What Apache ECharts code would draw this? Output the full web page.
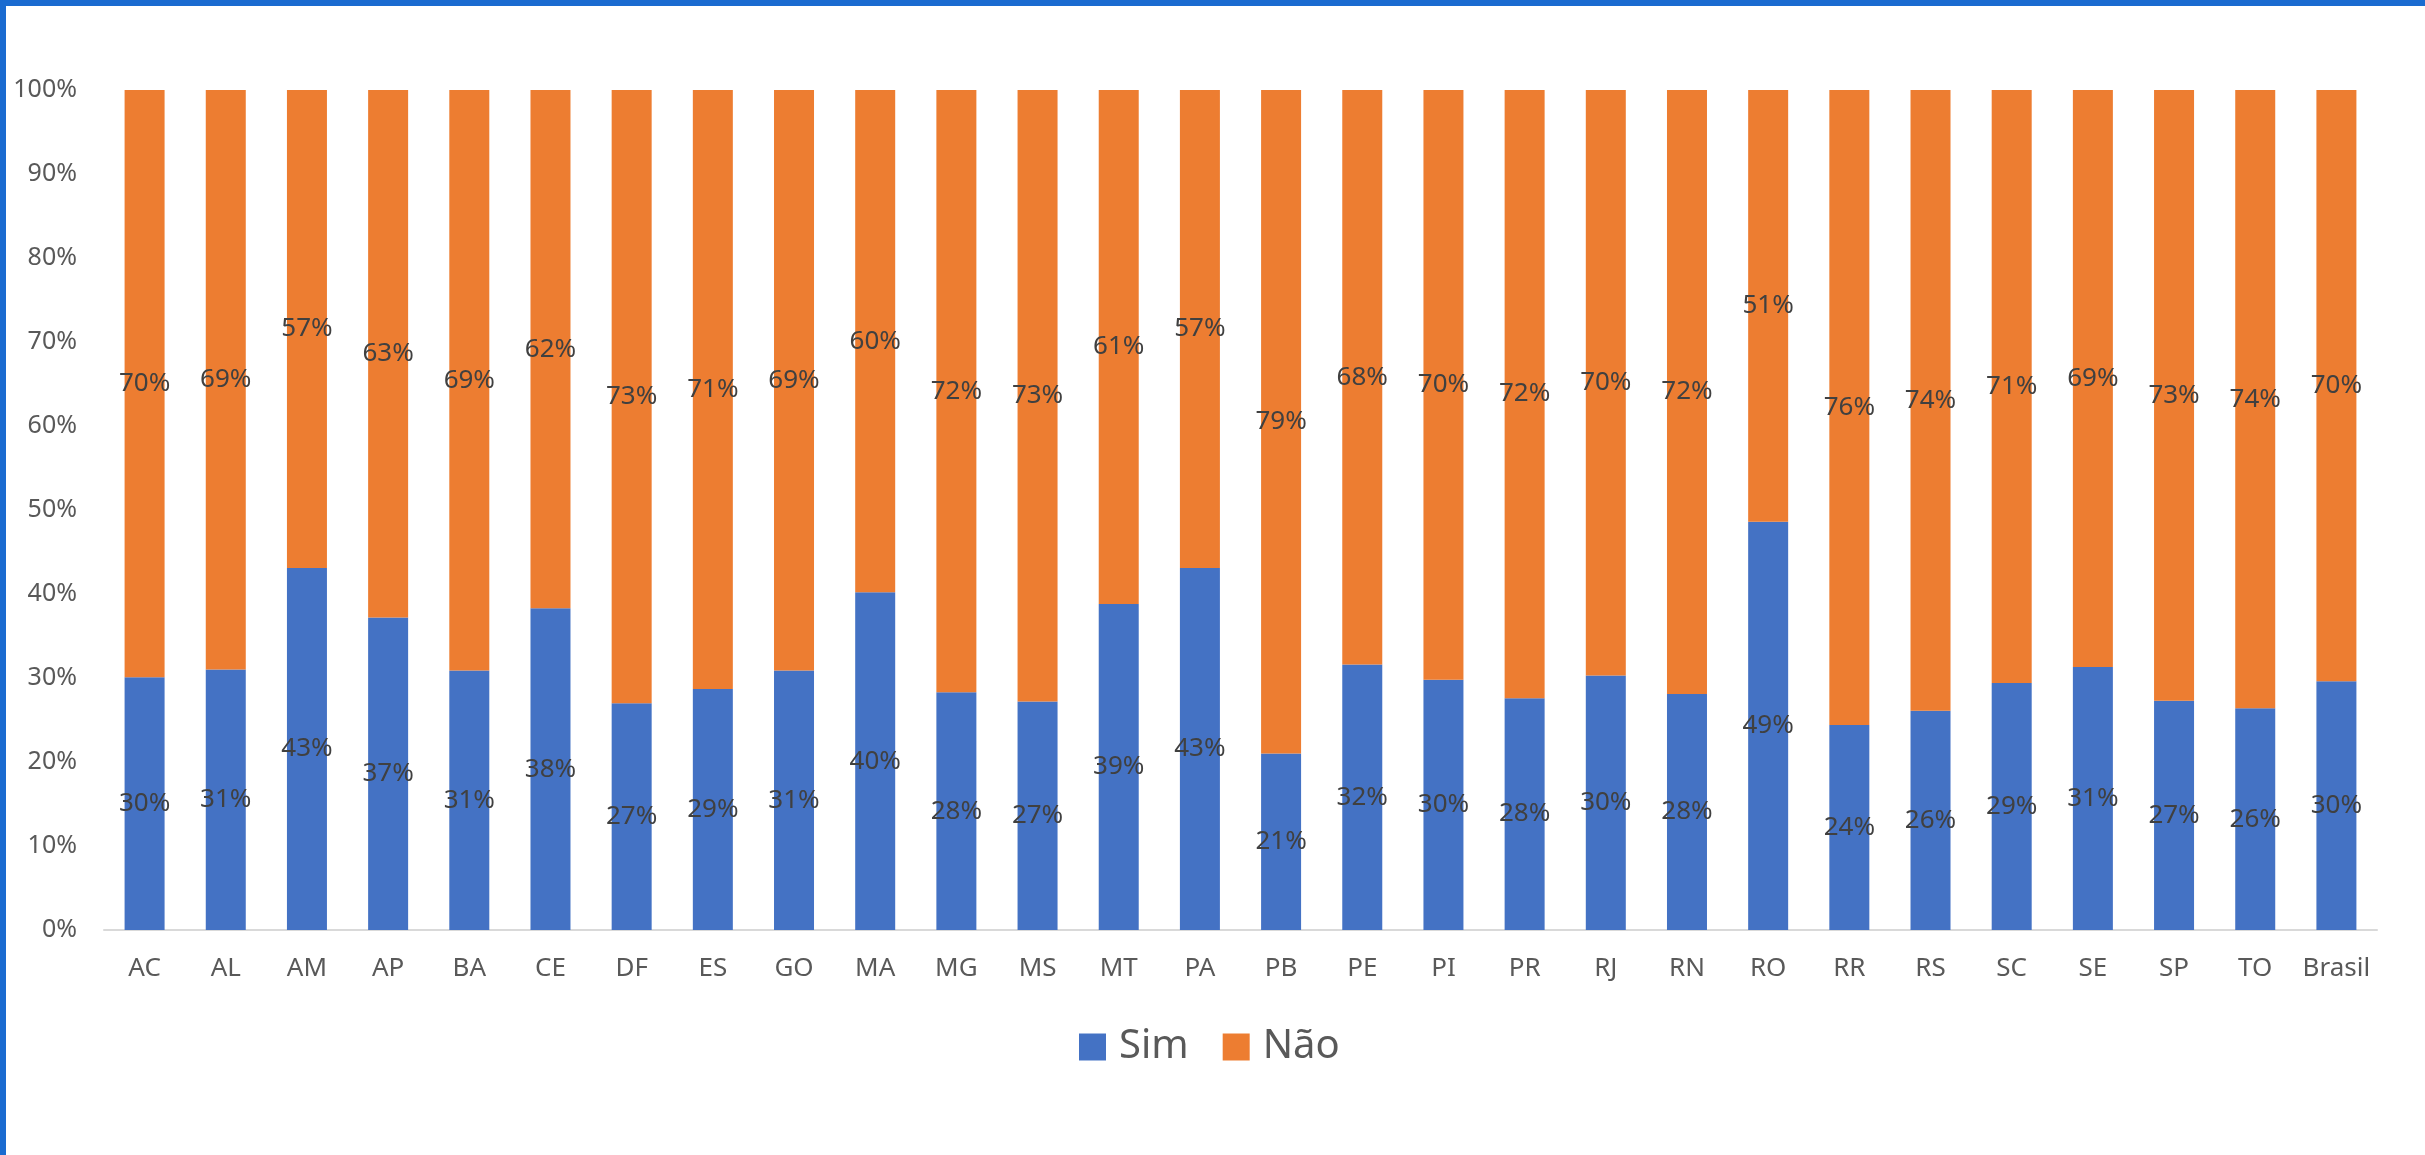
<!DOCTYPE html>
<html>
<head>
<meta charset="utf-8">
<script src="https://cdn.jsdelivr.net/npm/echarts@6/dist/echarts.min.js"></script>
<style>
  html, body { margin: 0; padding: 0; background: #fff; }
  #chart { position: absolute; left: 0; top: 0; width: 2425px; height: 1155px; }
  #frame { position: absolute; left: 0; top: 0; width: 2425px; height: 1155px;
           box-sizing: border-box; border-top: 6px solid #1a6bd0; border-left: 6px solid #1a6bd0;
           pointer-events: none; }
</style>
</head>
<body>
<div id="chart"></div>
<div id="frame"></div>
<script>
const categories = ['AC','AL','AM','AP','BA','CE','DF','ES','GO','MA','MG','MS','MT','PA','PB','PE','PI','PR','RJ','RN','RO','RR','RS','SC','SE','SP','TO','Brasil'];
const simValues = [30.1, 31.0, 43.1, 37.2, 30.9, 38.3, 27.0, 28.7, 30.9, 40.2, 28.3, 27.2, 38.8, 43.1, 21.0, 31.6, 29.8, 27.6, 30.3, 28.1, 48.6, 24.4, 26.1, 29.4, 31.3, 27.3, 26.4, 29.6];
const naoValues = [69.9, 69.0, 56.9, 62.8, 69.1, 61.7, 73.0, 71.3, 69.1, 59.8, 71.7, 72.8, 61.2, 56.9, 79.0, 68.4, 70.2, 72.4, 69.7, 71.9, 51.4, 75.6, 73.9, 70.6, 68.7, 72.7, 73.6, 70.4];
const yTicks = [0, 10, 20, 30, 40, 50, 60, 70, 80, 90, 100];

const font = 'Noto Sans';
const myChart = echarts.init(document.getElementById('chart'));

const labelStyle = {
  show: true,
  position: 'inside',
  color: '#404040',
  fontSize: 26,
  fontFamily: font,
  formatter: p => Math.round(p.value) + '%'
};

myChart.setOption({
  animation: false,
  color: ['#4472C4', '#ED7D31'],
  grid: { left: 104, right: 48, top: 90, bottom: 225 },
  legend: {
    left: 1074,
    top: 1022,
    itemWidth: 27,
    itemHeight: 27,
    itemGap: 34,
    icon: 'rect',
    textStyle: { color: '#595959', fontSize: 40, fontFamily: font, padding: [0, 0, 0, 8] },
    data: ['Sim', 'Não']
  },
  xAxis: {
    type: 'category',
    data: categories,
    axisTick: { show: false },
    axisLine: { lineStyle: { color: '#d9d9d9', width: 2 } },
    axisLabel: { color: '#595959', fontSize: 26, fontFamily: font, margin: 26, interval: 0 }
  },
  yAxis: {
    type: 'value',
    min: yTicks[0],
    max: yTicks[yTicks.length - 1],
    interval: 10,
    axisLine: { show: false },
    axisTick: { show: false },
    splitLine: { show: false },
    axisLabel: { color: '#595959', fontSize: 25, fontFamily: font, margin: 27, formatter: '{value}%' }
  },
  series: [
    { name: 'Sim', type: 'bar', stack: 'total', barWidth: 40, data: simValues, label: labelStyle },
    { name: 'Não', type: 'bar', stack: 'total', barWidth: 40, data: naoValues, label: labelStyle }
  ]
});
</script>
</body>
</html>
